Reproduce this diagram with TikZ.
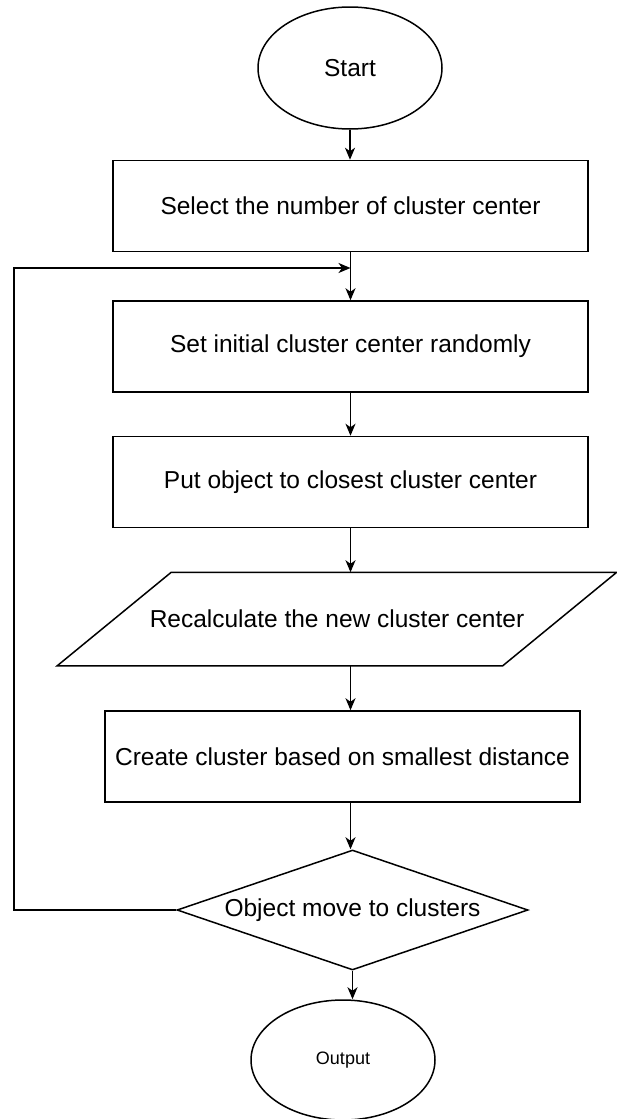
\documentclass[tikz,border=0pt]{standalone}
\usepackage{fontspec}
\setmainfont{Liberation Sans}
\usetikzlibrary{shapes.geometric, arrows.meta}

\begin{document}
\begin{tikzpicture}[x=1pt,y=1pt]
        \useasboundingbox (0,0) rectangle (616,-1119);
        \begin{scope}[every node/.style={draw,line width=1.5pt,inner sep=0pt,font=\fontsize{24.5}{28}\selectfont},
                      block/.style={rectangle,minimum width=475pt,minimum height=91pt}]
          \node[ellipse,minimum width=184pt,minimum height=122pt] (start) at (350,-68) {Start};
          \node[block] (sel) at (350.5,-206) {Select the number of cluster center};
          \node[block] (init) at (350.5,-346.5) {Set initial cluster center randomly};
          \node[block] (put) at (350.5,-482) {Put object to closest cluster center};
          \node[block,draw=none,minimum width=444pt,minimum height=92pt] (recalc) at (337,-619) {Recalculate the new cluster center};
          \node[block] (make) at (342.5,-756.5) {Create cluster based on smallest distance};
          \node[diamond,aspect=2.9,minimum width=351pt,minimum height=120pt] (move) at (352.5,-910) {Object move to clusters};
          \node[ellipse,minimum width=184pt,minimum height=120pt,font=\fontsize{18}{22}\selectfont] (out) at (343,-1060) {Output};
        \end{scope}
        % slanted box round the recalculation step
        \draw[line width=1.5pt] ([xshift=-57pt]recalc.south west) -- ([xshift=-57pt]recalc.south east)
          -- ([xshift=57pt]recalc.north east) -- ([xshift=57pt]recalc.north west) -- cycle;
        \coordinate (merge) at (350.5,-268);
        \coordinate (bend) at (14,-268);
        \begin{scope}[every edge/.style={draw=black,line width=1.5pt,-{Stealth[length=12pt,width=10pt,inset=3.5pt]}}]
          \path (start.south) edge (start.south |- sel.north);
          \path (sel.south) edge (init.north);
          \path (init.south) edge (put.north);
          \path (put.south) edge (put.south |- recalc.north);
          \path (recalc.south -| sel) edge (make.north -| sel);
          \path (make.south -| sel) edge (move.north -| sel);
          \path (move.south) edge (move.south |- out.north);
        \end{scope}
        % loop back to the top
        \draw[line width=1.5pt,-{Stealth[length=12pt,width=10pt,inset=3.5pt]}] (move.west) -| (bend) -- (merge);
      \end{tikzpicture}
\end{document}
